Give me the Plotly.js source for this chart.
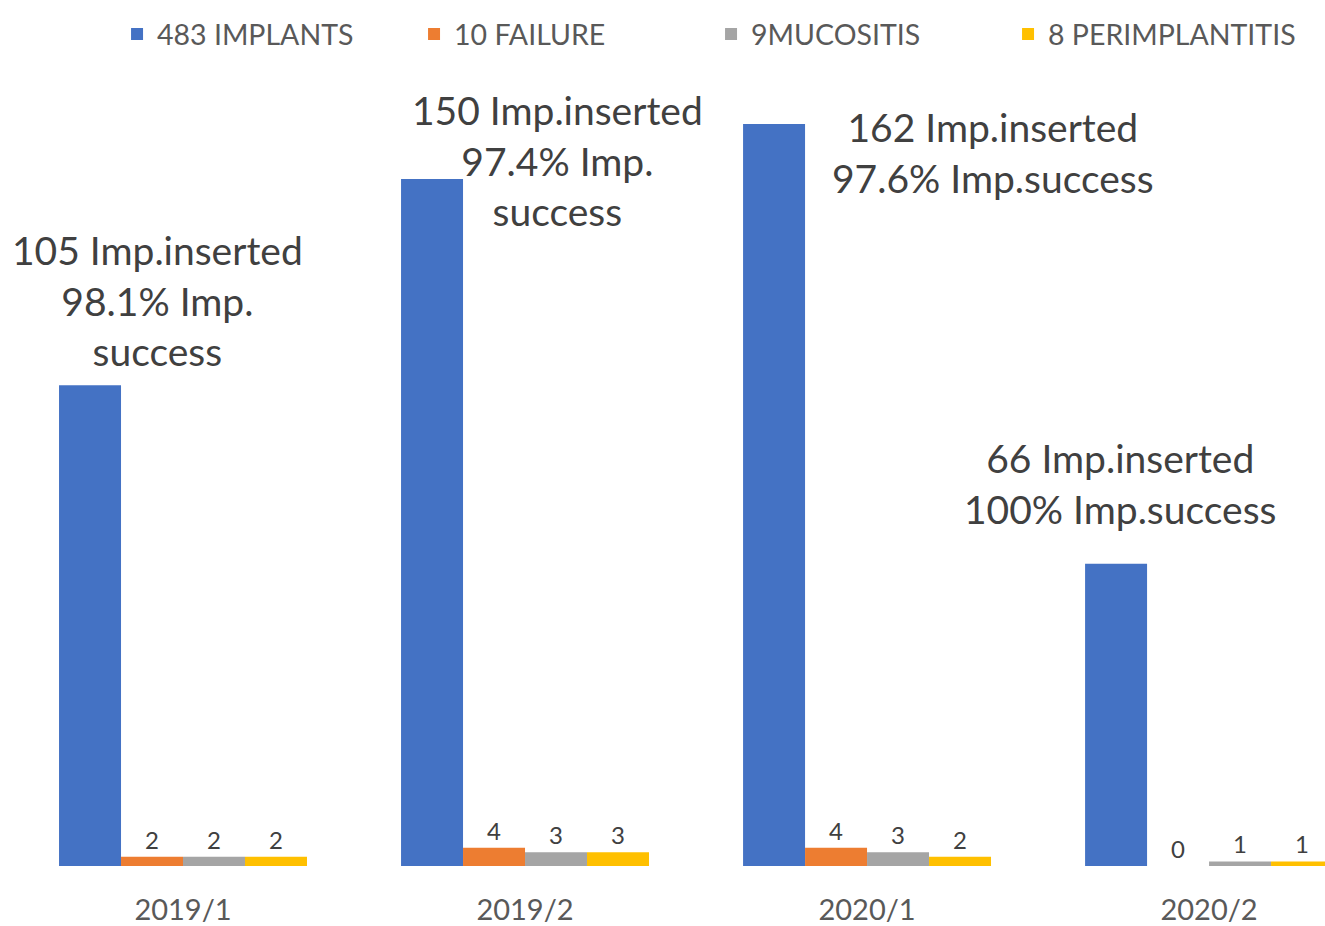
<!DOCTYPE html>
<html>
<head>
<meta charset="utf-8">
<script src="https://cdn.plot.ly/plotly-3.0.1.min.js"></script>
<style>html,body{margin:0;padding:0;background:#fff;}#chart{width:1325px;height:926px;}</style>
</head>
<body>
<div id="chart"></div>
<script>
const categories = ["2019/1", "2019/2", "2020/1", "2020/2"];
const implants = [105, 150, 162, 66];
const failure = [2, 4, 4, 0];
const mucositis = [2, 3, 3, 1];
const perimplantitis = [2, 3, 2, 1];
const seriesNames = ["483 IMPLANTS", "10 FAILURE", "9MUCOSITIS", "8 PERIMPLANTITIS"];
const noteTexts = [
  "105 Imp.inserted<br>98.1% Imp.<br>success",
  "150 Imp.inserted<br>97.4% Imp.<br>success",
  "162 Imp.inserted<br>97.6% Imp.success",
  "66 Imp.inserted<br>100% Imp.success"
];

const colors = ["#4472C4", "#ED7D31", "#A5A5A5", "#FFC000"];
const FONT = "Lato, 'Open Sans', sans-serif";
const labelFont = {family: FONT, size: 24, color: "#404040"};

function barTrace(vals, i, showText) {
  return {
    type: "bar",
    name: seriesNames[i],
    x: categories,
    y: vals,
    marker: {color: colors[i]},
    text: showText ? vals.map(String) : undefined,
    textposition: showText ? "outside" : "none",
    textfont: labelFont,
    cliponaxis: false,
    hoverinfo: "skip"
  };
}

const data = [
  barTrace(implants, 0, false),
  barTrace(failure, 1, true),
  barTrace(mucositis, 2, true),
  barTrace(perimplantitis, 3, true)
];

// offsets of the big notes relative to the blue bar top (style only)
const noteXShift = [-26, 32, 126, -89];
const noteYShift = [85, 19, -28, 80];

const annotations = categories.map((c, i) => ({
  x: c, y: implants[i], xref: "x", yref: "y",
  xshift: noteXShift[i], yshift: noteYShift[i],
  yanchor: "middle", xanchor: "center", align: "center",
  text: noteTexts[i], showarrow: false,
  font: {family: FONT, size: 39, color: "#404040"}
}));

const layout = {
  width: 1325, height: 926,
  margin: {l: 12, r: 0, t: 60, b: 60},
  paper_bgcolor: "#fff", plot_bgcolor: "#fff",
  barmode: "group", bargap: 0.275, bargroupgap: 0,
  showlegend: true,
  legend: {
    orientation: "h", x: 0.08, xanchor: "left", y: 1, yanchor: "bottom",
    font: {family: FONT, size: 28.5, color: "#595959"},
    traceorder: "normal", entrywidth: 252, entrywidthmode: "pixels"
  },
  xaxis: {
    type: "category", range: [-0.5, 3.339],
    showgrid: false, zeroline: false, showline: false,
    ticks: "outside", ticklen: 18, tickcolor: "rgba(0,0,0,0)",
    tickfont: {family: FONT, size: 29, color: "#595959"}
  },
  yaxis: {
    range: [0, 176], visible: false, showgrid: false, zeroline: false
  },
  annotations: annotations
};

Plotly.newPlot("chart", data, layout, {displayModeBar: false, staticPlot: true});
</script>
</body>
</html>
